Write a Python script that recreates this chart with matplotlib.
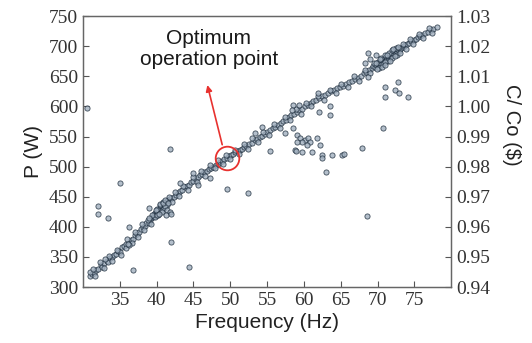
import matplotlib
matplotlib.use("Agg")
import matplotlib.pyplot as plt

# ---- data ----
freq_main = [
    30.9, 31.2, 31.5, 31.8, 32.1, 32.4, 32.6, 32.9, 33.2, 33.4, 33.7, 34.0, 34.2, 34.5, 34.8, 35.0, 35.3, 35.6,
    35.9, 36.2, 36.5, 36.8, 37.0, 37.3, 37.6, 37.9, 38.1, 38.4, 38.6, 38.9, 39.1, 39.3, 39.5,
    39.6, 39.7, 39.8, 39.9, 40.0, 40.1, 40.2, 40.3, 40.4, 40.5, 40.6, 40.7, 40.8, 40.9, 41.0, 41.1, 41.2, 41.3,
    41.4, 41.5, 41.6, 41.8, 42.0, 39.8, 40.2, 40.6, 41.0, 41.4, 40.0, 40.5,
    42.3, 42.6, 42.9, 43.2, 43.5, 43.8, 44.1, 44.4, 44.7, 45.0, 45.3, 45.6, 45.9, 46.2, 46.5, 46.8, 47.1, 47.4, 47.7,
    48.0, 48.3, 48.6, 48.9, 49.2, 49.5, 49.8, 50.1, 50.4, 50.7, 51.0, 51.3, 51.6, 51.9, 52.2,
    52.5, 52.9, 53.3, 53.6, 54.0, 54.3, 54.7, 55.0, 55.4, 55.8, 56.1, 56.5, 56.9, 57.2, 57.6, 58.0, 58.3, 58.7,
    59.0, 59.4, 59.8, 60.1,
    60.5, 60.9, 61.3, 61.7, 62.1, 62.5, 62.9, 63.3, 63.7, 64.1, 64.5, 64.9, 65.3, 65.7, 66.1, 66.5, 66.9, 67.3,
    67.7, 68.1, 68.5, 68.9,
    69.2, 69.4, 69.6, 69.8, 70.0, 70.1, 70.2, 70.3, 70.4, 70.5, 70.6, 70.7, 70.8, 70.9, 71.0, 71.1, 71.2, 71.3,
    71.4, 71.5, 71.6, 71.7, 71.8, 71.9, 72.0, 72.1, 72.2, 72.3, 72.4, 72.5, 72.6, 72.7, 72.8, 72.9, 73.0, 73.2,
    73.4, 73.6, 73.8, 74.0, 70.5, 71.0, 71.5, 72.0, 72.5, 70.2, 70.8, 71.4, 72.0, 72.6,
    74.3, 74.6, 74.9, 75.2, 75.5, 75.8, 76.1, 76.4, 76.8, 77.2, 77.6, 78.1,
]
power_main = [
    318, 322, 324, 329, 330, 336, 334, 340, 343, 341, 348, 350, 354, 355, 360, 359, 366, 368,
    372, 374, 379, 380, 386, 388, 392, 396, 399, 401, 406, 407, 412, 414, 417,
    418, 421, 423, 420, 425, 427, 424, 429, 431, 428, 433, 435, 432, 437, 438, 436, 441, 442,
    439, 444, 445, 446, 448, 416, 420, 426, 432, 436, 430, 436,
    450, 453, 456, 460, 461, 466, 468, 470, 475, 476, 480, 482, 486, 487, 491, 493, 496, 498, 500,
    503, 505, 508, 510, 513, 515, 517, 519, 521, 524, 526, 528, 530, 533, 535,
    538, 540, 544, 546, 550, 551, 555, 558, 561, 565, 566, 570, 573, 576, 578, 583, 585, 588,
    590, 594, 596, 600,
    603, 605, 609, 611, 614, 617, 619, 622, 625, 628, 630, 632, 634, 637, 640, 643, 645, 648,
    651, 655, 657, 661,
    664, 667, 666, 669, 670, 673, 668, 672, 675, 671, 677, 674, 678, 676, 680, 677, 682, 679,
    683, 681, 685, 682, 687, 684, 688, 686, 690, 687, 692, 689, 693, 691, 695, 692, 696, 697,
    699, 700, 702, 704, 680, 685, 688, 693, 697, 664, 670, 675, 680, 686,
    705, 708, 710, 712, 715, 717, 719, 722, 724, 727, 729, 732,
]
freq_band = [
    31.0, 31.6, 32.3, 32.8, 33.5, 33.9, 34.6, 35.1, 35.8, 36.0, 36.6, 37.1, 37.5, 38.0, 38.3, 38.8, 39.2, 39.4,
    39.9, 40.1, 40.4, 40.7, 40.9, 41.2, 41.7, 42.1, 42.5, 43.0, 43.6, 44.2, 44.9, 45.5, 46.0, 46.6, 47.2, 47.9,
    48.4, 49.0, 49.4, 50.0, 50.6, 51.2, 51.8, 52.4, 53.0, 53.8, 54.5, 55.2, 56.0, 56.7, 57.4, 58.1, 58.9, 59.6,
    60.3, 61.0, 61.9, 62.7, 63.5, 64.3, 65.1, 66.0, 66.8, 67.5, 68.3, 69.0, 69.5, 69.9, 70.3, 70.6, 71.0, 71.3,
    71.7, 72.1, 72.4, 72.8, 73.1, 73.5, 73.9, 74.4, 74.8, 75.6, 76.2, 77.0, 77.4, 31.4, 33.0, 36.3, 39.0, 40.3,
    40.8, 41.1, 41.6,
]
power_band = [
    325, 319, 341, 331, 352, 344, 362, 353, 365, 380, 373, 392, 383, 404, 394, 412, 405, 420,
    428, 419, 438, 425, 442, 434, 450, 441, 458, 452, 468, 462, 482, 475, 492, 485, 502, 497,
    511, 505, 520, 512, 528, 521, 538, 530, 547, 541, 558, 553, 571, 565, 582, 577, 595, 588,
    606, 600, 617, 611, 628, 622, 638, 633, 650, 643, 660, 655, 672, 663, 678, 666, 674, 686,
    676, 695, 683, 699, 688, 704, 695, 712, 703, 721, 713, 730, 722, 330, 347, 370, 415, 422,
    440, 444, 440,
]
freq_out = [
    30.5, 41.8, 35.0, 32.0, 32.0, 33.4, 36.3, 36.1, 42.0, 36.8, 44.4, 49.6, 52.4, 45.0, 43.2, 47.3, 45.6,
    41.4, 41.8, 41.3, 41.9, 39.0,
    61.9, 63.6, 62.1, 58.5, 59.3, 58.4, 63.6, 54.3, 53.4, 57.4, 58.5, 59.1, 59.5, 60.2, 60.6, 59.7, 60.8,
    59.1, 60.4, 61.8, 62.2, 58.8, 59.8, 61.1, 62.5, 63.8, 65.2, 55.4, 63.0, 67.9, 68.6, 62.5, 65.5, 58.9,
    68.7, 69.8, 69.0, 68.3, 69.8, 71.0, 68.7, 72.8, 71.0, 72.4, 72.9, 74.2, 71.0, 70.8,
]
power_out = [
    597, 529, 473, 435, 421, 415, 400, 372, 375, 328, 333, 463, 456, 489, 473, 481, 469,
    428, 424, 420, 421, 431,
    622, 601, 591, 602, 602, 594, 586, 566, 556, 556, 564, 553, 548, 544, 548, 541, 541,
    541, 536, 548, 536, 528, 524, 524, 519, 519, 519, 526, 491, 531, 418, 514, 521, 526,
    689, 685, 679, 672, 672, 669, 649, 640, 632, 627, 622, 616, 616, 564,
]
opt_point = (49.6, 514)
x_ticks = [35, 40, 45, 50, 55, 60, 65, 70, 75]
p_ticks = [300, 350, 400, 450, 500, 550, 600, 650, 700, 750]
c_ticks = [0.94, 0.95, 0.96, 0.97, 0.98, 0.99, 1.00, 1.01, 1.02, 1.03]

SERIF = "Liberation Serif"
SANS = "Liberation Sans"

fig = plt.figure(figsize=(5.32, 3.43), dpi=100)
ax = fig.add_axes([0.156, 0.163, 0.692, 0.790])

ax.scatter(freq_main + freq_band + freq_out, power_main + power_band + power_out, s=14,
           facecolor="#a2b0bf", edgecolor="#1a2a3a", linewidths=0.6, alpha=0.8, zorder=3)

ax.set_xlim(30, 80)
ax.set_ylim(300, 750)
ax.set_xticks(x_ticks)
ax.set_yticks(p_ticks)
ax.tick_params(direction="in", length=4, width=0.8, colors="#555555", labelcolor="#333333",
               labelsize=14)
for lab in ax.get_xticklabels() + ax.get_yticklabels():
    lab.set_family(SERIF)
for sp in ax.spines.values():
    sp.set_color("#666666")
    sp.set_linewidth(1.0)

ax.set_xlabel("Frequency (Hz)", family=SANS, fontsize=15, color="#222222", labelpad=3)
ax.set_ylabel("P (W)", family=SANS, fontsize=15, color="#222222", labelpad=4)

ax2 = ax.twinx()
ax2.set_ylim(0.94, 1.03)
ax2.set_yticks(c_ticks)
ax2.set_yticklabels([f"{v:.2f}" for v in c_ticks])
ax2.tick_params(direction="in", length=4, width=0.8, colors="#555555", labelcolor="#333333",
                labelsize=14)
for lab in ax2.get_yticklabels():
    lab.set_family(SERIF)
for sp in ax2.spines.values():
    sp.set_color("#666666")
ax2.set_ylabel("C/ Co ($)", family=SANS, fontsize=14.5, color="#222222", rotation=270,
               labelpad=18)
ax2.yaxis.set_label_coords(1.19, 0.6)

# optimum marker + annotation
ax.plot([opt_point[0]], [opt_point[1]], "o", mfc="none", mec="#e8322f", ms=17, mew=1.3, zorder=5)
ax.annotate("", xy=(46.8, 640), xytext=(49.0, 532),
            arrowprops=dict(arrowstyle="-|>", color="#e8322f", lw=1.2, mutation_scale=9),
            zorder=5)
ax.text(47.1, 695, "Optimum\noperation point", family=SANS, fontsize=15, ha="center",
        va="center", color="#1a1a1a", linespacing=1.1)

fig.savefig("out.png", dpi=100)
